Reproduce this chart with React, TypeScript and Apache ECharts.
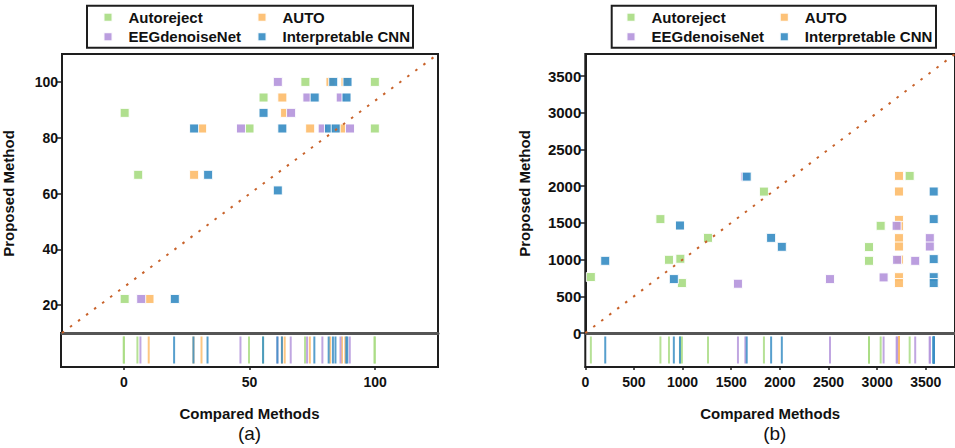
import React, { useEffect, useRef } from 'react';
import * as echarts from 'echarts';

const SERIES_NAMES = ['Autoreject', 'AUTO', 'EEGdenoiseNet', 'Interpretable CNN'];
const COLORS = ['#a9dc84', '#fdbd6c', '#b596dc', '#3a8ec4'];

// Panel (a)
const A_AUTOREJECT = [[72.1, 100], [99.8, 100], [55.4, 94.4], [0, 88.9], [49.8, 83.3], [99.8, 83.3], [5.4, 66.7], [0, 22.2]];
const A_AUTO = [[82.1, 100], [88.1, 100], [62.9, 94.4], [64.0, 88.9], [30.9, 83.3], [74.0, 83.3], [86.8, 83.3], [27.7, 66.7], [9.9, 22.2]];
const A_EEGDENOISE = [[61.1, 100], [72.9, 94.4], [86.2, 94.4], [66.4, 88.9], [46.4, 83.3], [79.0, 83.3], [89.9, 83.3], [6.6, 22.2]];
const A_ICNN = [[83.2, 100], [88.9, 100], [75.8, 94.4], [88.5, 94.4], [55.4, 88.9], [27.7, 83.3], [62.9, 83.3], [81.5, 83.3], [84.2, 83.3], [33.3, 66.7], [61.1, 61.1], [20.0, 22.2]];

// Panel (b)
const B_AUTOREJECT = [[57, 762], [772, 1551], [860, 997], [977, 1011], [993, 680], [1261, 1296], [1836, 1926], [2916, 1170], [2916, 983], [3036, 1460], [3334, 2140]];
const B_AUTO = [[3224, 2140], [3224, 1927], [3224, 1541], [3224, 1455], [3224, 1292], [3224, 1178], [3224, 1000], [3224, 760], [3224, 680]];
const B_EEGDENOISE = [[1569, 671], [1645, 2130], [2515, 734], [3066, 757], [3200, 1460], [3205, 997], [3391, 983], [3541, 1292], [3541, 1178]];
const B_ICNN = [[205, 983], [910, 734], [973, 1464], [1659, 2130], [1910, 1296], [2020, 1174], [3581, 1927], [3581, 1551], [3581, 1006], [3581, 760], [3581, 680]];

const A_X_RANGE = [-25, 125];
const A_Y_RANGE = [10, 110];
const A_X_TICKS = [0, 50, 100];
const A_Y_TICKS = [20, 40, 60, 80, 100];

const B_X_RANGE = [0, 3800];
const B_Y_RANGE = [0, 3800];
const B_X_TICKS = [0, 500, 1000, 1500, 2000, 2500, 3000, 3500];
const B_Y_TICKS = [0, 500, 1000, 1500, 2000, 2500, 3000, 3500];

const FONT = '"Liberation Sans", Arial, Helvetica, sans-serif';
const DARK = '#1e1e1e';
const plain = (v: number) => String(v);

export default function App() {
  const ref = useRef<HTMLDivElement>(null);

  useEffect(() => {
    if (!ref.current) return;
    const chart = echarts.init(ref.current, null, { renderer: 'svg' });

    const panels = [
      { data: [A_AUTOREJECT, A_AUTO, A_EEGDENOISE, A_ICNN], xr: A_X_RANGE, yr: A_Y_RANGE, xt: A_X_TICKS, yt: A_Y_TICKS, left: 61, width: 377, yNameGap: 46, yFont: 14 },
      { data: [B_AUTOREJECT, B_AUTO, B_EEGDENOISE, B_ICNN], xr: B_X_RANGE, yr: B_Y_RANGE, xt: B_X_TICKS, yt: B_Y_TICKS, left: 585.3, width: 379, yNameGap: 53, yFont: 15 },
    ];

    const grids: any[] = [];
    const xAxes: any[] = [];
    const yAxes: any[] = [];
    const series: any[] = [];

    panels.forEach((p, pi) => {
      const gMain = pi * 2;
      const gRug = pi * 2 + 1;
      grids.push({ left: p.left, top: 54, width: p.width, height: 279, show: true, borderColor: DARK, borderWidth: 2, backgroundColor: 'transparent' });
      grids.push({ left: p.left, top: 333, width: p.width, height: 34, show: true, borderColor: DARK, borderWidth: 2, backgroundColor: 'transparent' });

      xAxes.push({
        gridIndex: gMain, type: 'value', min: p.xr[0], max: p.xr[1], position: 'bottom',
        axisLine: { show: true, onZero: false, lineStyle: { color: '#555', width: 3 } },
        axisTick: { show: false }, axisLabel: { show: false }, splitLine: { show: false },
      });
      xAxes.push({
        gridIndex: gRug, type: 'value', min: p.xr[0], max: p.xr[1], position: 'bottom',
        axisLine: { show: true, onZero: false, lineStyle: { color: DARK, width: 2 } },
        axisTick: { show: true, length: 3, customValues: p.xt, lineStyle: { color: DARK, width: 1.5 } },
        axisLabel: { customValues: p.xt, formatter: plain, fontFamily: FONT, fontWeight: 'bold', fontSize: 14, color: '#111', margin: 8 },
        splitLine: { show: false },
        name: 'Compared Methods', nameLocation: 'middle', nameGap: 39,
        nameTextStyle: { fontFamily: FONT, fontWeight: 'bold', fontSize: 15, color: '#111' },
      });
      yAxes.push({
        gridIndex: gMain, type: 'value', min: p.yr[0], max: p.yr[1],
        axisLine: { show: true, onZero: false, lineStyle: { color: DARK, width: 2 } },
        axisTick: { show: true, length: 5, customValues: p.yt, lineStyle: { color: DARK, width: 1.5 } },
        axisLabel: { customValues: p.yt, formatter: plain, fontFamily: FONT, fontWeight: 'bold', fontSize: p.yFont, color: '#111', margin: 4 },
        splitLine: { show: false },
        name: 'Proposed Method', nameLocation: 'middle', nameGap: p.yNameGap,
        nameTextStyle: { fontFamily: FONT, fontWeight: 'bold', fontSize: 15, color: '#111' },
      });
      yAxes.push({ gridIndex: gRug, type: 'value', min: 0, max: 1, show: false });

      p.data.forEach((d, si) => {
        series.push({
          type: 'scatter', name: SERIES_NAMES[si], xAxisIndex: gMain, yAxisIndex: gMain,
          data: d, symbol: 'rect', symbolSize: 9,
          itemStyle: { color: COLORS[si], opacity: 0.92, borderColor: '#ffffff', borderWidth: 1 },
          z: 2,
        });
      });
      p.data.forEach((d, si) => {
        series.push({
          type: 'scatter', name: SERIES_NAMES[si], xAxisIndex: gRug, yAxisIndex: gRug,
          data: d.map((v) => [v[0], 0.5]), symbol: 'rect', symbolSize: [2, 27],
          itemStyle: { color: COLORS[si], opacity: 0.85 },
          z: 2,
        });
      });
      series.push({
        type: 'line', xAxisIndex: gMain, yAxisIndex: gMain, silent: true,
        data: [[p.xr[0], p.yr[0]], [p.xr[1], p.yr[1]]], symbol: 'none',
        lineStyle: { color: '#c8622a', width: 2, type: [2.5, 7.5] },
        z: 4,
      });
    });

    const legendPos = [
      { left: 102.5, top: 9.3, name: 'Autoreject' },
      { left: 256.5, top: 9.3, name: 'AUTO' },
      { left: 102.5, top: 28.7, name: 'EEGdenoiseNet' },
      { left: 256.5, top: 28.7, name: 'Interpretable CNN' },
      { left: 625.5, top: 9.3, name: 'Autoreject' },
      { left: 778.8, top: 9.3, name: 'AUTO' },
      { left: 625.5, top: 28.7, name: 'EEGdenoiseNet' },
      { left: 778.8, top: 28.7, name: 'Interpretable CNN' },
    ];
    const legends = legendPos.map((l) => ({
      left: l.left, top: l.top, orient: 'horizontal', padding: 0,
      data: [{ name: l.name, icon: 'rect' }], itemWidth: 9, itemHeight: 9,
      selectedMode: false,
      textStyle: { fontFamily: FONT, fontWeight: 'bold', fontSize: 15, color: '#111', padding: [0, 0, 0, 11], lineHeight: 16 },
    }));

    chart.setOption({
      animation: false,
      backgroundColor: '#ffffff',
      grid: grids,
      xAxis: xAxes,
      yAxis: yAxes,
      legend: legends,
      series,
      graphic: [
        { type: 'rect', shape: { x: 87, y: 5.7, width: 326, height: 42 }, style: { fill: 'none', stroke: DARK, lineWidth: 2 }, z: 10 },
        { type: 'rect', shape: { x: 611.7, y: 5.7, width: 324.3, height: 42 }, style: { fill: 'none', stroke: DARK, lineWidth: 2 }, z: 10 },
        { type: 'text', x: 249.5, y: 433, style: { text: '(a)', fontFamily: FONT, fontSize: 19, fill: '#111', textAlign: 'center', textVerticalAlign: 'middle' } },
        { type: 'text', x: 774.8, y: 433, style: { text: '(b)', fontFamily: FONT, fontSize: 19, fill: '#111', textAlign: 'center', textVerticalAlign: 'middle' } },
      ],
    });

    return () => chart.dispose();
  }, []);

  return <div ref={ref} style={{ position: 'absolute', left: 0, top: 0, width: 955, height: 448 }} />;
}
